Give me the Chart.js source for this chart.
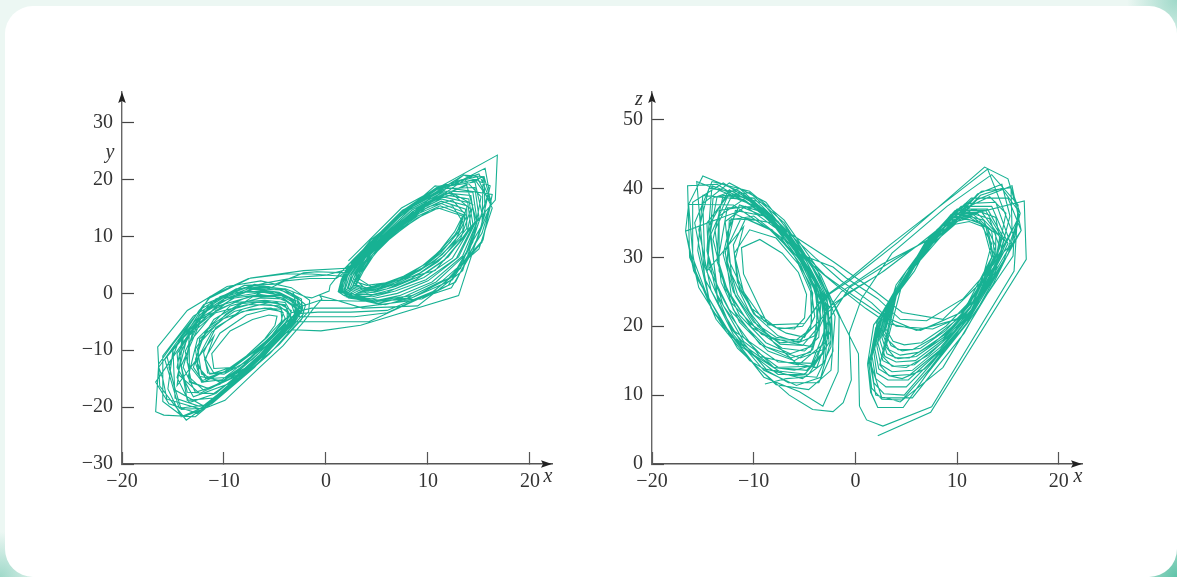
<!DOCTYPE html>
<html lang="en">
<head>
<meta charset="UTF-8">
<title>Lorenz attractor projections</title>
<style>
    * { margin: 0; padding: 0; box-sizing: border-box; }
    html, body { width: 1177px; height: 577px; overflow: hidden; }
    body {
        position: relative;
        background:
            radial-gradient(circle at 100% 100%, #5fc4a9 0, #8fd4c0 24px, rgba(143,212,192,0) 50px),
            radial-gradient(circle at 100% 0, #9fd9c9 0, rgba(159,217,201,0) 50px),
            radial-gradient(circle at 0 100%, #9fd9c9 0, rgba(159,217,201,0) 45px),
            #ecf7f3;
    }
    .card {
        position: absolute;
        left: 5px; top: 6px;
        width: 1172px; height: 571px;
        background: #fff;
        border-radius: 28px;
    }
    canvas { position: absolute; top: 80px; }
    #xyChart { left: 50px; }
    #xzChart { left: 580px; }
</style>
</head>
<body>
<div class="card"></div>
<canvas id="xyChart" width="520" height="420"></canvas>
<canvas id="xzChart" width="520" height="420"></canvas>

<script src="https://cdn.jsdelivr.net/npm/chart.js"></script>
<script>
    const xTicks = [-20, -10, 0, 10, 20];
    const yTicks = [-30, -20, -10, 0, 10, 20, 30];
    const zTicks = [0, 10, 20, 30, 40, 50];

    // one trajectory; each row is one swing round a lobe
    const xValues = [
        2.2, 7.4, 16.8, 16.6, 10.7, 6.5, 4.0, 3.0,
        3.0, 3.7, 4.8, 6.5, 8.9, 11.0, 13.4, 12.6, 11.2, 9.8, 7.6, 5.8, 4.0,
        2.9, 3.5, 4.6, 6.4, 8.9, 11.2, 13.5, 12.8, 11.0, 9.4, 7.4, 5.6, 3.8,
        2.7, 3.3, 4.4, 6.2, 8.8, 11.3, 13.6, 13.0, 11.2, 9.4, 7.2, 5.4, 3.6,
        2.6, 3.1, 4.2, 6.0, 8.7, 11.3, 13.7, 13.4, 11.4, 9.2, 7.0, 5.2, 3.4,
        2.4, 2.9, 4.0, 5.9, 8.6, 11.3, 13.8, 13.8, 11.6, 9.2, 6.8, 5.0, 3.2,
        2.2, 2.7, 3.8, 5.8, 8.5, 11.4, 13.9, 14.2, 12.0, 9.4, 6.8, 4.8, 3.0,
        2.1, 2.5, 3.6, 5.6, 8.4, 11.4, 14.0, 14.4, 12.4, 9.6, 6.8, 4.6, 2.8,
        1.9, 2.3, 3.4, 5.4, 8.2, 11.4, 14.2, 14.6, 12.8, 9.8, 6.8, 4.6, 2.6,
        1.8, 2.1, 3.2, 5.2, 8.0, 11.4, 14.4, 14.8, 13.0, 10.0, 7.0, 4.4, 2.4,
        1.6, 2.0, 3.0, 5.0, 7.8, 11.4, 14.6, 15.0, 13.4, 10.4, 7.2, 4.6, 2.2,
        1.5, 1.8, 2.8, 4.8, 7.6, 11.2, 14.6, 15.3, 13.8, 10.8, 7.4, 5.0, 2.0,
        3.2, 4.2, 5.6, 7.8, 10.2, 12.4, 13.4, 12.2, 10.4, 8.4, 6.4, 4.6,
        3.0, 3.9, 5.3, 7.6, 10.0, 12.4, 13.8, 12.6, 10.6, 8.2, 6.2, 4.2,
        2.7, 3.6, 5.0, 7.2, 9.8, 12.4, 14.2, 13.2, 11.0, 8.4, 6.0, 4.0,
        2.4, 3.3, 4.6, 6.8, 9.4, 12.2, 14.4, 13.8, 11.6, 8.8, 6.0, 3.8,
        1.3, 1.6, 2.6, 4.6, 7.4, 11.0, 14.8, 16.3, 15.0, 11.4, 7.8, 5.8, 1.8,
        1.2, 1.5, 2.2, 4.7, 7.2, 11.0, 15.0, 16.2, 15.3, 12.4, 8.0, 5.4, 2.0,
        1.4, 2.0, 4.4, 8.6, 13.5, 15.5, 16.2, 15.3, 12.4, 8.4, 5.0, 2.4,
        1.5, 2.6, 5.6, 10.7, 16.3, 15.4, 12.0, 8.4, 5.2, 2.6,
        1.2, 1.6, 2.2, 4.7, 7.0, 11.0, 15.5, 15.6, 13.0, 3.4, -0.5, -3.3,
        -5.0, -8.6, -11.0, -11.2, -9.4, -7.2, -5.6, -4.8, -5.0, -6.0, -7.8,
        -9.8, -11.4, -11.9, -10.4, -7.8, -5.6, -4.4, -4.3, -5.4, -7.4,
        -10.2, -12.2, -12.8, -11.2, -8.2, -5.6, -4.0, -3.6, -4.4, -6.4,
        -9.4, -12.0, -13.5, -12.6, -9.4, -6.4, -4.2, -3.0, -3.2, -4.8, -7.6,
        -11.0, -13.6, -14.2, -12.4, -9.0, -6.2, -3.8, -2.6, -3.0, -5.2,
        -8.8, -12.2, -14.8, -15.0, -12.4, -8.8, -5.6, -3.2, -2.0, -2.4, -4.6,
        -7.8, -11.6, -14.4, -15.8, -14.1, -10.4, -7.0, -4.0, -2.4, -2.2,
        -3.6, -6.6, -10.4, -13.7, -16.3, -16.5, -13.6, -9.7, -6.4, -3.4, -1.6,
        -1.7, -3.2, -5.5, -9.0, -12.8, -15.9, -16.7, -16.4, -15.0, -11.4, -7.4,
        -2.2, 2.0, 4.6,
        8.6, 13.5, 16.1, 15.0, 12.7, 4.2, -0.6, -3.2,
        -5.2, -7.6, -10.2, -12.4, -12.8, -11.0, -8.4, -5.8, -4.0, -3.4, -4.2,
        -6.0, -8.6, -11.4, -13.2, -13.8, -12.2, -9.0, -6.4, -4.2, -3.0,
        -3.2, -5.0, -7.6, -10.8, -13.4, -14.6, -13.6, -10.4, -7.0, -4.4, -2.8,
        -2.4, -3.4, -5.8, -9.0, -12.0, -14.2, -15.4, -14.4, -11.2, -8.0, -5.0,
        -2.2, -0.9, 2.2,
        4.4, 7.0, 10.6, 13.6, 15.4, 15.3, 12.4, 10.4, 6.0, 2.8, -0.4, -2.6,
        -3.2, -2.4, -3.8, -5.8, -8.0, -10.4, -12.2, -12.6, -11.4, -8.8, -6.8,
        -4.8, -3.4, -3.6, -5.0, -7.2, -9.8, -11.8, -12.8, -11.8, -9.0,
        -6.6, -4.6, -3.6, -4.0, -5.6, -7.6, -10.0, -11.6, -12.0, -10.8,
        -8.2, -6.0, -4.4, -4.0, -5.0, -6.8, -9.0, -11.0, -11.8, -11.0,
        -14.6, -14.0, -11.4, -7.6, -4.0, -1.4, 1.6, 4.0, 7.6, 11.4,
        14.6, 16.2, 14.4, 12.3, 8.6, 2.6, -1.4, -3.4,
        -5.4, -7.8, -10.4, -12.8, -14.0, -13.0, -10.0, -6.8, -4.0, -2.0,
        -1.4, 0.3, 0.4, 1.1, 2.7, 7.5, 15.6, 16.0, 13.4, 9.0, 3.6, 0.6,
        -0.6, -0.4, -1.2, -2.2, -4.2, -6.5, -9.9, -14.0, -16.0, -16.0, -13.0, -9.0, -6.0,
        -3.0, 0.0, 2.8, 6.0, 10.0, 13.6, 15.2, 14.4, 12.0, 9.4, 3.8, -0.6, -2.6,
        -4.4, -8.0, -12.2, -15.6, -16.0, -16.4, -12.0, -8.0, -4.6, -2.8,
        -2.6, -4.6, -8.2, -12.6, -15.4, -16.7, -12.0, -8.4, -5.0, -3.2,
        -2.8, -4.2, -7.6, -12.0, -14.8, -15.6, -10.8, -7.2, -4.2, -2.4,
        -2.4, -3.8, -7.0, -11.2, -14.2, -15.5, -15.0, -11.0, -7.6, -4.8,
        -3.0, -3.0, -5.6, -9.4, -13.0, -14.6, -14.1, -10.6, -7.0, -4.4,
        -2.8, -3.2, -5.4, -8.8, -12.4, -14.4, -14.6, -12.4, -9.0, -6.0,
        -4.0, -3.4, -4.2, -6.4, -9.2, -12.2, -13.6, -13.4, -10.8, -7.8,
        -5.4, -3.8, -3.8, -5.2, -7.4, -9.6, -11.6, -12.6, -12.4, -10.0,
        -7.4, -5.4, -4.2, -4.4, -5.8, -7.8, -10.0, -12.0, -13.0, -12.2,
        -9.8, -7.0, -4.0, -1.6, 1.0, 3.2, 6.4, 10.4, 13.8, 14.8, 13.2, 10.6, 6.0, 2.4, -0.8, -3.0,
        -4.4, -6.4, -8.8, -11.4, -13.4, -13.4, -10.8, -7.6, -5.0, -3.4, -3.0,
        -4.0, -6.0, -8.0, -11.0, -13.6, -14.4, -12.4, -9.0, -6.0, -3.6, -2.8,
        -3.2, -5.0, -6.8, -8.9
    ];
    const yValues = [
        5.7, 15.0, 24.3, 16.4, 4.0, 2.0, 1.4, 2.0,
        1.6, 4.0, 7.0, 10.0, 13.2, 15.0, 13.6, 10.8, 7.6, 5.2, 3.0, 1.8, 1.0,
        1.5, 3.9, 6.9, 10.1, 13.5, 15.4, 13.8, 10.6, 7.2, 4.8, 2.8, 1.5, 0.8,
        1.4, 3.8, 6.9, 10.2, 13.8, 15.8, 14.2, 10.8, 7.0, 4.4, 2.4, 1.2, 0.6,
        1.2, 3.6, 6.7, 10.2, 14.0, 16.2, 14.8, 11.0, 6.8, 4.0, 2.0, 0.9, 0.4,
        1.1, 3.5, 6.6, 10.2, 14.2, 16.6, 15.4, 11.4, 6.6, 3.6, 1.6, 0.6, 0.2,
        1.0, 3.4, 6.4, 10.1, 14.4, 17.0, 16.0, 11.8, 6.4, 3.2, 1.2, 0.2, 0.0,
        0.9, 3.3, 6.2, 10.0, 14.6, 17.4, 16.6, 12.2, 6.2, 2.8, 0.8, -0.2, -0.2,
        0.8, 3.1, 6.0, 9.9, 14.7, 17.7, 17.2, 12.6, 6.2, 2.4, 0.4, -0.6, -0.4,
        0.7, 3.0, 5.8, 9.8, 14.8, 18.0, 17.8, 13.0, 6.4, 2.2, 0.0, -1.0, -0.6,
        0.6, 2.9, 5.6, 9.6, 14.8, 18.4, 18.6, 13.4, 6.6, 2.0, -0.4, -1.4, -0.8,
        0.5, 2.8, 5.4, 9.4, 14.6, 18.6, 19.6, 14.0, 7.0, 2.0, -0.8, -1.8, -0.6,
        3.0, 5.6, 8.6, 11.8, 14.6, 15.4, 12.6, 9.0, 6.0, 3.6, 2.0, 1.0,
        2.8, 5.4, 8.4, 12.0, 15.2, 16.4, 13.6, 9.0, 5.6, 3.0, 1.4, 0.4,
        2.6, 5.2, 8.2, 12.2, 15.8, 17.4, 14.8, 9.6, 5.6, 2.6, 0.8, 0.0,
        2.4, 5.0, 7.8, 11.8, 15.6, 17.8, 15.6, 10.4, 5.8, 2.4, 0.2, -0.6,
        0.4, 2.6, 5.2, 9.2, 14.4, 18.8, 20.5, 15.0, 7.8, 2.2, -1.0, -2.0, -0.4,
        0.3, 2.4, 5.0, 9.0, 14.0, 18.6, 21.0, 16.0, 9.0, 3.0, -1.2, -2.0, -0.2,
        0.6, 4.0, 9.4, 15.4, 20.8, 20.5, 16.0, 10.6, 2.4, -0.8, -1.4, -0.6,
        1.2, 5.6, 11.0, 18.9, 17.4, 9.4, 2.6, -0.4, -1.2, -0.4,
        0.3, 2.4, 5.0, 9.0, 13.6, 18.4, 20.5, 14.0, -0.4, -5.6, -6.6, -6.4,
        -8.0, -13.0, -13.2, -10.6, -6.6, -4.6, -3.8, -4.0, -5.6, -8.0, -11.0,
        -13.8, -14.2, -11.6, -7.0, -3.8, -2.8, -3.2, -5.0, -7.6, -11.2,
        -15.2, -15.6, -12.2, -6.8, -2.8, -1.6, -2.0, -4.0, -6.6, -10.2,
        -15.0, -17.0, -14.6, -8.0, -2.2, -0.8, -1.0, -2.6, -5.0, -8.2, -13.0,
        -18.4, -18.8, -12.8, -5.4, -0.6, 0.2, -0.6, -2.4, -4.8, -9.0,
        -15.2, -20.0, -18.4, -10.0, -2.9, 0.8, 1.2, -0.2, -2.0, -4.6, -9.0,
        -14.0, -19.6, -20.2, -11.6, -7.9, -0.6, 1.6, 0.6, -1.4, -3.6,
        -6.4, -11.8, -18.0, -22.3, -16.3, -9.4, -3.0, 1.2, 2.2, 1.0, -1.2,
        -3.2, -6.0, -10.6, -16.0, -21.7, -21.4, -20.8, -12.4, -8.9, -0.8, 2.7,
        4.0, 4.4, 8.0,
        14.0, 20.8, 18.9, 10.2, 2.0, -5.0, -5.0, -5.0,
        -8.6, -12.8, -15.4, -14.6, -9.8, -4.6, -1.8, -1.4, -2.2, -4.2, -6.6,
        -10.0, -14.2, -16.8, -15.6, -10.2, -4.2, -0.8, -0.2, -0.8, -2.4,
        -4.6, -8.4, -12.8, -17.6, -19.2, -14.8, -7.6, -1.6, 0.8, 0.6, -1.0,
        -3.2, -6.0, -10.4, -15.8, -20.2, -20.4, -13.0, -8.2, -1.4, 1.4, 1.6,
        3.6, 3.8, 3.6,
        7.6, 12.0, 16.4, 19.0, 20.5, 12.0, 3.0, 0.2, -3.4, -4.1, -4.1, -4.1,
        0.0, -2.2, -5.4, -9.6, -13.4, -15.6, -14.2, -9.8, -5.8, -2.6, -1.6,
        -1.6, -3.0, -5.2, -7.8, -11.6, -14.8, -15.0, -11.6, -6.6, -3.2,
        -2.0, -2.2, -3.6, -5.6, -8.4, -11.8, -14.2, -14.0, -10.4, -6.0,
        -3.2, -2.6, -2.8, -4.4, -6.8, -10.0, -12.8, -14.0, -11.6, -7.6,
        -16.2, -7.9, -0.6, 2.6, 3.4, 3.4, 3.0, 6.6, 12.4, 18.8,
        20.0, 16.0, 7.5, 1.0, -1.2, -2.6, -2.6, -3.4,
        -7.6, -12.2, -16.0, -17.4, -13.0, -6.4, -1.0, 1.0, 0.8, -0.6,
        -0.8, 0.4, 1.4, 3.0, 6.0, 14.6, 22.0, 18.0, 4.0, -2.2, -2.6, -1.0,
        -0.4, -1.0, -2.6, -5.0, -9.2, -13.0, -18.8, -21.7, -19.0, -11.0, -4.0, 0.4, 1.8,
        2.8, 3.2, 4.6, 9.6, 15.6, 20.0, 17.0, 9.0, 1.4, -1.0, -1.4, -1.2, -2.4,
        -7.0, -14.0, -20.4, -18.6, -15.0, -13.0, -2.0, 1.0, 0.2, -1.4,
        -3.4, -7.8, -14.6, -21.1, -19.4, -15.6, -3.4, 0.2, 0.2, -1.2,
        -3.6, -7.2, -13.4, -19.8, -17.0, -11.0, -1.0, 1.4, 0.8, -1.0,
        -3.0, -6.4, -13.0, -19.4, -21.7, -16.8, -10.0, -1.4, 0.8, 0.2,
        -1.4, -4.0, -9.4, -15.8, -18.2, -13.0, -8.0, -2.2, -0.4, -0.4,
        -2.0, -4.8, -9.2, -14.6, -17.6, -14.4, -10.6, -4.6, -1.6, -1.2,
        -1.6, -3.4, -5.8, -9.4, -13.2, -15.4, -12.2, -7.4, -3.4, -2.0,
        -2.0, -3.0, -4.8, -7.4, -10.6, -13.6, -14.8, -12.8, -8.0, -4.4,
        -2.8, -2.6, -3.4, -5.0, -7.8, -11.0, -13.8, -15.6, -13.0, -8.4,
        -3.6, -0.4, 2.2, 2.6, 2.6, 5.4, 10.4, 16.4, 19.0, 12.4, 4.4, 0.4, -3.0, -3.3, -3.3, -3.6,
        -6.0, -9.8, -13.8, -16.8, -15.6, -8.6, -3.0, -0.6, -0.6, -1.8, -4.0,
        -6.0, -9.8, -13.8, -17.6, -17.4, -11.0, -3.8, 0.2, 0.4, -0.8, -3.0,
        -5.4, -8.4, -11.8, -14.6
    ];
    const zValues = [
        4.1, 7.5, 29.7, 38.2, 36.0, 31.0, 26.0, 21.0,
        19.6, 17.8, 17.3, 17.6, 20.0, 23.2, 30.0, 34.4, 35.2, 34.8, 32.0, 28.6, 24.6,
        19.2, 17.2, 16.4, 16.8, 19.4, 23.0, 30.2, 34.6, 35.6, 35.0, 31.8, 28.2, 24.2,
        18.8, 16.6, 15.8, 16.2, 18.8, 22.8, 30.0, 34.2, 35.8, 35.4, 31.6, 28.0, 23.8,
        18.4, 16.0, 15.3, 15.6, 18.4, 22.6, 30.2, 33.8, 36.0, 35.6, 31.8, 27.8, 23.4,
        18.0, 15.6, 14.8, 15.0, 18.0, 22.6, 30.4, 33.4, 36.2, 35.8, 31.6, 27.4, 23.0,
        17.6, 15.0, 14.2, 14.4, 17.6, 22.4, 30.4, 33.0, 36.4, 36.2, 31.6, 27.0, 22.6,
        17.2, 14.4, 13.4, 13.6, 17.0, 22.2, 30.6, 32.6, 36.6, 36.4, 31.8, 26.6, 22.2,
        16.8, 13.8, 12.8, 13.0, 16.4, 22.0, 30.4, 32.4, 36.8, 36.8, 32.0, 26.4, 21.8,
        16.4, 13.2, 12.2, 12.2, 16.0, 22.0, 30.6, 32.2, 37.0, 37.0, 32.4, 26.0, 21.4,
        16.0, 12.4, 11.2, 11.2, 15.4, 21.6, 30.8, 32.0, 37.4, 37.4, 32.8, 26.4, 21.0,
        15.4, 11.8, 10.2, 10.0, 14.8, 21.4, 30.8, 31.8, 38.0, 37.8, 33.0, 27.0, 20.6,
        18.0, 16.6, 16.6, 18.4, 21.2, 26.4, 32.0, 35.2, 35.6, 33.4, 30.0, 26.2,
        17.0, 15.4, 15.4, 17.4, 20.6, 26.0, 31.6, 35.4, 36.2, 33.8, 30.0, 25.6,
        15.6, 14.2, 14.0, 15.8, 19.4, 25.2, 31.4, 35.6, 36.6, 34.0, 29.6, 25.0,
        14.4, 12.8, 12.4, 13.8, 17.6, 24.0, 31.0, 35.8, 37.0, 34.6, 29.4, 24.6,
        15.0, 11.0, 9.4, 9.3, 14.0, 21.0, 30.6, 33.9, 38.6, 38.6, 33.6, 28.0, 20.2,
        14.6, 10.4, 8.2, 8.2, 13.4, 20.6, 30.4, 36.4, 40.1, 39.6, 34.0, 27.6, 19.8,
        15.0, 10.0, 9.0, 14.0, 26.0, 32.0, 36.4, 40.1, 39.6, 34.0, 28.0, 21.4,
        14.6, 9.6, 9.6, 19.0, 33.9, 40.4, 38.4, 33.0, 27.6, 21.2,
        14.4, 10.2, 8.2, 8.2, 13.0, 20.4, 30.2, 33.0, 42.8, 31.8, 27.0, 24.0,
        20.4, 20.2, 27.6, 31.4, 32.6, 30.6, 27.8, 24.6, 21.2, 19.6, 19.8,
        21.6, 25.4, 30.6, 34.0, 32.8, 29.0, 25.0, 20.4, 17.8, 17.6,
        19.8, 24.4, 30.8, 35.8, 35.0, 30.4, 25.8, 20.2, 16.2, 15.4,
        17.4, 22.4, 29.6, 37.2, 37.4, 32.6, 27.4, 22.4, 16.2, 13.6, 14.0,
        17.8, 24.6, 33.4, 39.4, 37.8, 32.4, 26.4, 21.0, 14.8, 12.4,
        13.8, 19.6, 28.6, 37.8, 40.8, 38.0, 32.0, 26.2, 21.4, 13.6, 10.8,
        11.5, 16.8, 24.0, 35.0, 41.0, 39.6, 35.4, 29.0, 23.4, 16.4,
        11.8, 11.8, 15.0, 21.0, 30.0, 40.4, 40.6, 37.0, 33.0, 27.4, 21.4,
        13.4, 8.4, 10.5, 12.6, 19.8, 28.0, 33.8, 37.7, 41.8, 39.6, 34.4,
        29.4, 25.0, 22.0,
        21.0, 28.0, 36.0, 41.4, 43.1, 32.2, 26.6, 24.0,
        20.0, 19.6, 22.6, 29.4, 35.2, 37.2, 35.6, 30.6, 26.4, 21.0, 16.6,
        15.0, 16.4, 20.6, 26.4, 34.0, 38.8, 37.0, 32.2, 27.2, 22.0,
        16.0, 13.0, 13.0, 16.6, 23.0, 31.0, 38.8, 39.4, 35.0, 29.0, 24.2,
        18.0, 12.6, 11.4, 13.6, 18.8, 25.2, 34.0, 40.0, 39.4, 35.8, 30.2,
        28.6, 27.0, 24.0,
        21.0, 20.8, 24.0, 29.0, 34.0, 40.1, 39.6, 36.6, 31.6, 28.0, 25.0, 22.8,
        25.0, 19.6, 14.0, 14.6, 17.6, 22.0, 27.6, 33.6, 37.6, 36.4, 33.0,
        28.0, 23.6, 18.4, 16.4, 16.8, 19.6, 24.4, 30.6, 36.8, 36.0,
        32.6, 28.0, 23.0, 18.6, 17.6, 18.6, 21.8, 26.4, 31.8, 35.6,
        34.0, 30.2, 26.0, 21.4, 18.4, 19.0, 20.8, 25.0, 29.8, 34.4,
        28.0, 38.6, 40.0, 35.0, 30.0, 26.6, 23.4, 20.0, 19.6, 22.0,
        29.6, 36.4, 40.0, 39.0, 33.6, 29.0, 25.0, 21.0,
        18.0, 18.0, 20.4, 25.4, 32.6, 39.0, 38.6, 34.0, 28.0, 23.0,
        21.0, 16.0, 8.4, 6.4, 5.5, 8.3, 28.0, 37.6, 42.0, 37.4, 30.6, 24.0,
        19.0, 12.2, 8.9, 7.6, 7.9, 10.0, 14.4, 22.1, 30.0, 38.0, 40.8, 37.0, 32.0,
        27.4, 24.2, 21.4, 19.4, 21.0, 27.0, 36.0, 40.6, 39.2, 34.6, 29.6, 25.6, 21.0,
        14.2, 14.0, 18.6, 27.0, 30.6, 37.7, 37.6, 33.6, 28.4, 24.0,
        17.6, 13.0, 13.6, 19.0, 25.6, 33.8, 36.4, 34.0, 29.0, 24.6,
        18.8, 14.6, 14.8, 19.4, 26.8, 41.0, 38.2, 34.2, 28.6, 23.6,
        17.0, 12.6, 13.0, 17.0, 22.6, 31.0, 39.0, 38.4, 34.4, 29.4,
        24.4, 17.6, 14.4, 15.6, 23.0, 31.0, 40.4, 38.4, 33.6, 28.0,
        23.0, 16.6, 15.4, 17.0, 22.4, 28.4, 35.0, 39.2, 36.8, 31.4,
        26.6, 21.4, 17.0, 17.6, 18.8, 23.4, 29.4, 36.8, 37.4, 34.2,
        29.4, 24.6, 19.6, 17.2, 17.4, 20.0, 24.6, 29.4, 35.4, 36.0,
        33.0, 29.0, 24.8, 19.6, 18.0, 18.4, 20.6, 25.0, 30.4, 35.6,
        35.4, 32.6, 28.6, 25.6, 22.6, 20.4, 19.4, 22.0, 29.0, 36.4, 38.8, 37.0, 31.6, 27.6, 24.8, 21.6,
        17.0, 16.0, 17.6, 21.6, 28.0, 36.0, 38.6, 35.2, 30.0, 25.0, 18.6,
        14.4, 13.6, 14.0, 18.4, 25.6, 34.6, 39.8, 37.0, 31.8, 26.0, 20.0,
        14.6, 12.6, 12.4, 11.6
    ];

    const lineColor = "#17b193";
    const labelFont = "Liberation Serif";

    function minusLabel(v) {
        return v < 0 ? "\u2212" + Math.abs(v) : String(v);
    }

    // arrow heads and the italic axis letters
    const axisDecor = {
        id: "axisDecor",
        afterDraw(chart, args, opts) {
            const c = chart.ctx, a = chart.chartArea;
            c.save();
            c.fillStyle = "#222";
            c.beginPath();
            c.moveTo(a.left, a.top);
            c.lineTo(a.left + 3.8, a.top + 11);
            c.lineTo(a.left, a.top + 9);
            c.lineTo(a.left - 3.8, a.top + 11);
            c.closePath();
            c.fill();
            c.beginPath();
            c.moveTo(a.right, a.bottom);
            c.lineTo(a.right - 11, a.bottom - 3.8);
            c.lineTo(a.right - 9, a.bottom);
            c.lineTo(a.right - 11, a.bottom + 3.8);
            c.closePath();
            c.fill();
            c.fillStyle = "#333";
            c.font = "italic 20px '" + labelFont + "'";
            c.textAlign = "center";
            c.textBaseline = "alphabetic";
            c.fillText("x", a.right - 4, a.bottom + 18);
            c.fillText(opts.name, a.left + opts.nameDx, a.top + opts.nameDy);
            c.restore();
        }
    };

    function makePanel(id, ys, yList, xMax, yMin, yMax, name, nameDx, nameDy) {
        const points = xValues.map((x, i) => ({ x: x, y: ys[i] }));
        return new Chart(document.getElementById(id), {
            type: "scatter",
            data: {
                datasets: [{
                    data: points,
                    showLine: true,
                    borderColor: lineColor,
                    borderWidth: 1.1,
                    pointRadius: 0,
                    tension: 0,
                    clip: false
                }]
            },
            options: {
                responsive: false,
                animation: false,
                layout: { padding: { top: 12, right: 18, left: 0, bottom: 0 } },
                plugins: {
                    legend: { display: false },
                    tooltip: { enabled: false },
                    axisDecor: { name: name, nameDx: nameDx, nameDy: nameDy }
                },
                scales: {
                    x: {
                        type: "linear",
                        min: -20,
                        max: xMax,
                        afterBuildTicks: s => { s.ticks = xTicks.map(v => ({ value: v })); },
                        afterFit: s => { s.height = 36; },
                        border: { color: "#555", width: 1.4 },
                        grid: { drawOnChartArea: false, tickLength: -12, tickColor: "#555", tickWidth: 1.2 },
                        ticks: {
                            padding: 18,
                            maxRotation: 0,
                            autoSkip: false,
                            color: "#333",
                            font: { family: labelFont, size: 20 },
                            callback: minusLabel
                        }
                    },
                    y: {
                        type: "linear",
                        min: yMin,
                        max: yMax,
                        afterBuildTicks: s => { s.ticks = yList.map(v => ({ value: v })); },
                        afterFit: s => { s.width = 72; s.paddingTop = 0; s.paddingBottom = 0; },
                        border: { color: "#666", width: 1.4 },
                        grid: { drawOnChartArea: false, tickLength: -12, tickColor: "#444", tickWidth: 1.2 },
                        ticks: {
                            padding: 21,
                            autoSkip: false,
                            color: "#333",
                            font: { family: labelFont, size: 20 },
                            callback: minusLabel
                        }
                    }
                }
            },
            plugins: [axisDecor]
        });
    }

    makePanel("xyChart", yValues, yTicks, 22.16, -30, 35.4, "y", -12, 66);
    makePanel("xzChart", zValues, zTicks, 22.28, 0, 54, "z", -13, 13);
</script>
</body>
</html>
